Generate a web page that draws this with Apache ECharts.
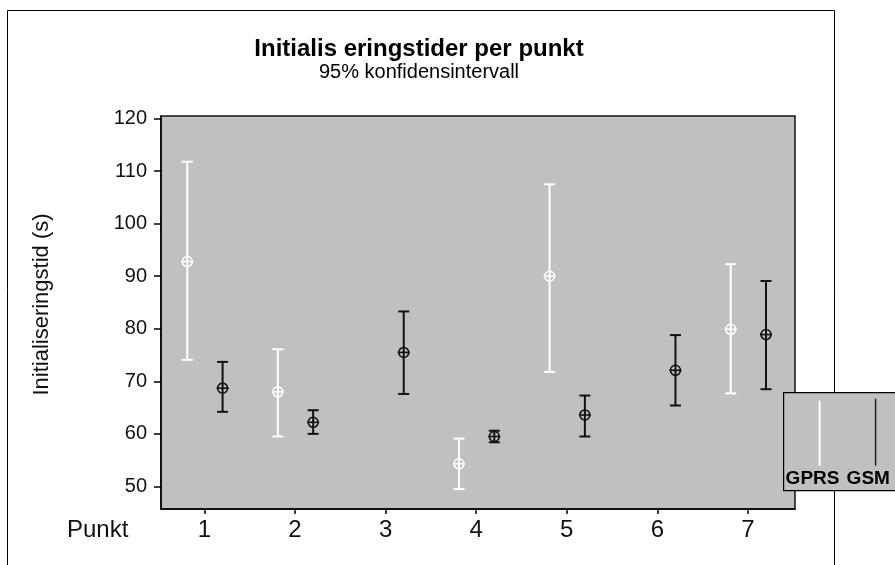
<!DOCTYPE html>
<html>
<head>
<meta charset="utf-8">
<script src="https://cdn.jsdelivr.net/npm/echarts@6/dist/echarts.min.js"></script>
<style>
html,body{margin:0;padding:0;background:#fff;}
#chart{width:895px;height:565px;}
</style>
</head>
<body>
<div id="chart"></div>
<script>
// ---- data ----
const categories = [1, 2, 3, 4, 5, 6, 7];
const yTicks = [50, 60, 70, 80, 90, 100, 110, 120];
const gprsMean = [92.8, 68.0, null, 54.3, 90.0, null, 79.9];
const gprsLow  = [74.1, 59.5, null, 49.5, 71.8, null, 67.7];
const gprsHigh = [111.8, 76.1, null, 59.1, 107.5, null, 92.3];
const gsmMean  = [68.7, 62.2, 75.5, 59.5, 63.6, 72.1, 78.9];
const gsmLow   = [64.2, 60.0, 67.6, 58.4, 59.5, 65.4, 68.5];
const gsmHigh  = [73.7, 64.5, 83.3, 60.6, 67.3, 78.8, 89.1];
const seriesNames = ['GPRS', 'GSM'];

const FONT = '"Liberation Sans", Arial, sans-serif';

function buildData(mean, low, high) {
  const out = [];
  categories.forEach((c, i) => {
    if (mean[i] != null) out.push([c, mean[i], low[i], high[i]]);
  });
  return out;
}

function makeRender(color, offset) {
  return function (params, api) {
    const x = api.value(0) + offset;
    const pM = api.coord([x, api.value(1)]);
    const pL = api.coord([x, api.value(2)]);
    const pH = api.coord([x, api.value(3)]);
    const cw = 5.5, r = 5;
    const st = { stroke: color, lineWidth: 2, fill: null };
    return {
      type: 'group',
      children: [
        { type: 'line', shape: { x1: pH[0], y1: pH[1], x2: pL[0], y2: pL[1] }, style: st },
        { type: 'line', shape: { x1: pH[0] - cw, y1: pH[1], x2: pH[0] + cw, y2: pH[1] }, style: st },
        { type: 'line', shape: { x1: pL[0] - cw, y1: pL[1], x2: pL[0] + cw, y2: pL[1] }, style: st },
        { type: 'circle', shape: { cx: pM[0], cy: pM[1], r: r }, style: { stroke: color, lineWidth: 1.6, fill: null } },
        { type: 'line', shape: { x1: pM[0] - r - 1, y1: pM[1], x2: pM[0] + r + 1, y2: pM[1] }, style: { stroke: color, lineWidth: 1.6 } }
      ]
    };
  };
}

const chart = echarts.init(document.getElementById('chart'), null, { renderer: 'canvas' });
const option = {
  backgroundColor: '#ffffff',
  animation: false,
  title: {
    text: 'Initialis eringstider per punkt',
    subtext: '95% konfidensintervall',
    left: 419,
    top: 37,
    textAlign: 'center',
    padding: 0,
    itemGap: 1,
    textStyle: { fontFamily: FONT, fontSize: 24, fontWeight: 'bold', color: '#000' },
    subtextStyle: { fontFamily: FONT, fontSize: 20, color: '#000' }
  },
  grid: {
    left: 161, top: 116, right: 100, bottom: 56,
    show: true, backgroundColor: '#c0c0c0', borderColor: '#111', borderWidth: 1.5
  },
  xAxis: {
    type: 'value',
    min: 0.52, max: 7.52,
    axisLine: { show: true, lineStyle: { color: '#000', width: 1.5 } },
    axisTick: { show: true, length: 5, lineStyle: { color: '#000', width: 1.5 }, customValues: categories },
    axisLabel: { customValues: categories, fontFamily: FONT, fontSize: 24, color: '#111', margin: 9,
      formatter: v => String(v) },
    splitLine: { show: false }
  },
  yAxis: {
    type: 'value',
    min: 45.7, max: 120.5,
    name: 'Initialiseringstid (s)',
    nameLocation: 'middle',
    nameGap: 108,
    nameTextStyle: { fontFamily: FONT, fontSize: 22, color: '#111', padding: [0, 0, 0, 16] },
    axisLine: { show: true, lineStyle: { color: '#000', width: 1.5 } },
    axisTick: { show: true, length: 7, lineStyle: { color: '#000', width: 1.5 }, customValues: yTicks },
    axisLabel: { customValues: yTicks, fontFamily: FONT, fontSize: 20, color: '#111', margin: 14 },
    splitLine: { show: false }
  },
  series: [
    { name: seriesNames[0], type: 'custom', renderItem: makeRender('#ffffff', -0.19),
      data: buildData(gprsMean, gprsLow, gprsHigh), encode: { x: 0, y: [1, 2, 3] }, clip: false },
    { name: seriesNames[1], type: 'custom', renderItem: makeRender('#111111', 0.2),
      data: buildData(gsmMean, gsmLow, gsmHigh), encode: { x: 0, y: [1, 2, 3] }, clip: false }
  ],
  graphic: [
    { type: 'rect', left: 5, top: 8, z: -10, silent: true,
      shape: { width: 827, height: 620 }, style: { fill: null, stroke: '#000', lineWidth: 1 } },
    { type: 'text', left: 67, top: 518, style: { text: 'Punkt', font: '24px ' + FONT, fill: '#111' } },
    { type: 'group', left: 783, top: 392, z: 100, children: [
      { type: 'rect', shape: { x: 0, y: 0, width: 130, height: 98 }, style: { fill: '#c0c0c0', stroke: '#000', lineWidth: 1.2 } },
      { type: 'line', shape: { x1: 36, y1: 8, x2: 36, y2: 73 }, style: { stroke: '#ffffff', lineWidth: 2 } },
      { type: 'line', shape: { x1: 92, y1: 6, x2: 92, y2: 73 }, style: { stroke: '#222', lineWidth: 1.5 } },
      { type: 'text', x: 2, y: 77, style: { text: seriesNames[0], font: 'bold 19px ' + FONT, fill: '#000' } },
      { type: 'text', x: 63, y: 77, style: { text: seriesNames[1], font: 'bold 19px ' + FONT, fill: '#000' } }
    ] }
  ]
};
chart.setOption(option);
</script>
</body>
</html>
